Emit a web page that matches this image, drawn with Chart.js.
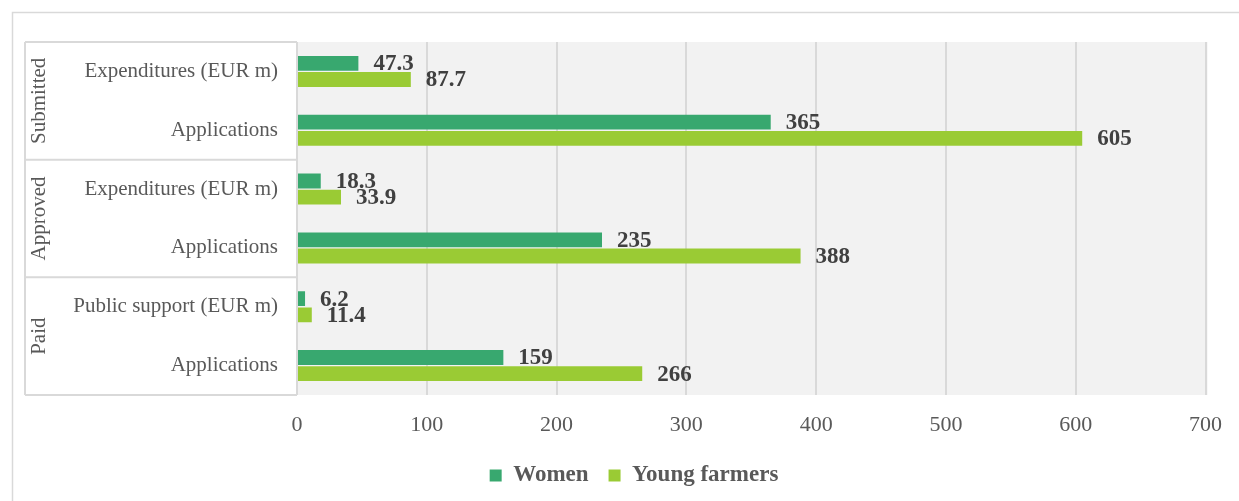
<!DOCTYPE html>
<html>
<head>
<meta charset="utf-8">
<script src="https://cdn.jsdelivr.net/npm/chart.js@4.4.1/dist/chart.umd.min.js"></script>
<style>
  html, body { margin: 0; padding: 0; background: #ffffff; }
  #wrap { width: 1239px; height: 501px; position: relative; }
</style>
</head>
<body>
<div id="wrap"><canvas id="c" width="1239" height="501"></canvas></div>
<script>
// ---- data ----
const categories = [
  'Expenditures (EUR m)', 'Applications',
  'Expenditures (EUR m)', 'Applications',
  'Public support (EUR m)', 'Applications'
];
const groups = ['Submitted', 'Approved', 'Paid'];
const groupSizes = [2, 2, 2];
const women = [47.3, 365, 18.3, 235, 6.2, 159];
const youngFarmers = [87.7, 605, 33.9, 388, 11.4, 266];
const seriesNames = ['Women', 'Young farmers'];
const xTicks = [0, 100, 200, 300, 400, 500, 600, 700];

const SERIF = '"Liberation Serif", "Times New Roman", serif';
const GRID = '#d9d9d9';

const framePlugin = {
  id: 'frame',
  beforeDraw(chart) {
    const { ctx, chartArea: a } = chart;
    ctx.save();
    // outer frame
    ctx.strokeStyle = GRID;
    ctx.lineWidth = 1.5;
    ctx.beginPath();
    ctx.moveTo(12.5, chart.height);
    ctx.lineTo(12.5, 12.5);
    ctx.lineTo(chart.width, 12.5);
    ctx.stroke();
    // plot background
    ctx.fillStyle = '#f2f2f2';
    ctx.fillRect(a.left, a.top, a.right - a.left + 2, a.bottom - a.top);
    ctx.restore();
  },
  afterDraw(chart) {
    const { ctx, chartArea: a, scales } = chart;
    const y = scales.y;
    const boxLeft = y.left;
    ctx.save();
    ctx.strokeStyle = GRID;
    ctx.lineWidth = 2;
    // separators
    const bounds = [y.getPixelForValue(-0.5)];
    let idx = 0;
    groupSizes.forEach(n => { idx += n; bounds.push(y.getPixelForValue(idx - 0.5)); });
    ctx.beginPath();
    bounds.forEach(b => { ctx.moveTo(boxLeft, b); ctx.lineTo(a.left, b); });
    ctx.moveTo(boxLeft, bounds[0]); ctx.lineTo(boxLeft, bounds[bounds.length - 1]);
    ctx.moveTo(a.left, bounds[0]); ctx.lineTo(a.left, bounds[bounds.length - 1]);
    ctx.stroke();
    // group labels
    ctx.fillStyle = '#595959';
    ctx.font = '21px ' + SERIF;
    ctx.textAlign = 'center';
    ctx.textBaseline = 'middle';
    groups.forEach((g, i) => {
      const cy = (bounds[i] + bounds[i + 1]) / 2;
      ctx.save();
      ctx.translate(39, cy);
      ctx.rotate(-Math.PI / 2);
      ctx.fillText(g, 0, 0);
      ctx.restore();
    });
    ctx.restore();
  },
  afterDatasetsDraw(chart) {
    const { ctx } = chart;
    ctx.save();
    ctx.fillStyle = '#404040';
    ctx.font = 'bold 23px ' + SERIF;
    ctx.textAlign = 'left';
    ctx.textBaseline = 'middle';
    chart.data.datasets.forEach((ds, di) => {
      const meta = chart.getDatasetMeta(di);
      meta.data.forEach((bar, i) => {
        ctx.fillText(String(ds.data[i]), bar.x + 15, bar.y + 1);
      });
    });
    ctx.restore();
  },
  afterUpdate(chart) {
    if (chart.legend) { chart.legend.left += 18; chart.legend.right += 18; }
  }
};

new Chart(document.getElementById('c'), {
  type: 'bar',
  data: {
    labels: categories,
    datasets: [
      { label: seriesNames[0], data: women, backgroundColor: '#38a86f' },
      { label: seriesNames[1], data: youngFarmers, backgroundColor: '#9acb34' }
    ]
  },
  options: {
    indexAxis: 'y',
    responsive: false,
    animation: false,
    devicePixelRatio: 1,
    categoryPercentage: 0.55,
    barPercentage: 0.92,
    layout: { padding: { left: 25, right: 32, top: 42, bottom: 4 } },
    scales: {
      x: {
        min: 0, max: 700,
        afterBuildTicks(scale) { scale.ticks = xTicks.map(v => ({ value: v })); },
        afterFit(scale) { scale.height = 49; },
        grid: { color: GRID, lineWidth: 2, drawTicks: false },
        border: { display: false },
        ticks: { color: '#595959', font: { family: SERIF, size: 22 }, padding: 17 }
      },
      y: {
        afterFit(scale) { scale.width = 272; },
        grid: { display: false, drawTicks: false },
        border: { display: false },
        ticks: { color: '#595959', font: { family: SERIF, size: 21 }, padding: 19 }
      }
    },
    plugins: {
      legend: {
        position: 'bottom',
        labels: {
          boxWidth: 12, boxHeight: 12, padding: 20,
          color: '#595959',
          font: { family: SERIF, size: 23, weight: 'bold' }
        }
      },
      tooltip: { enabled: false }
    }
  },
  plugins: [framePlugin]
});
</script>
</body>
</html>
